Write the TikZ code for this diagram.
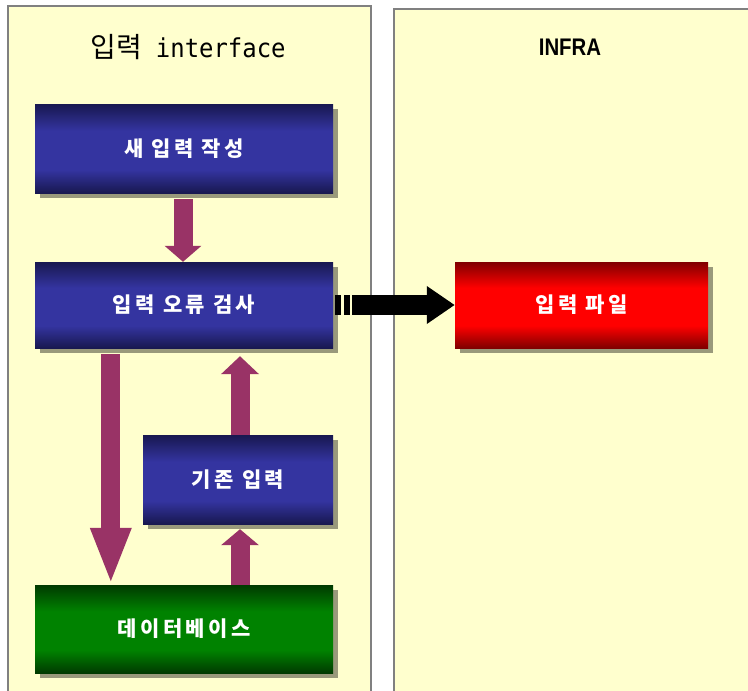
\documentclass[tikz,border=0pt]{standalone}
\usepackage{fontspec}
\usetikzlibrary{arrows.meta,shadows}
\newfontfamily\krfont{Noto Sans CJK KR}
\newfontfamily\krspaced[LetterSpace=16]{Noto Sans CJK KR}
\newfontfamily\monofont[FakeStretch=0.92]{DejaVu Sans Mono}
\newfontfamily\latinfont[FakeStretch=0.85]{Liberation Sans}
\definecolor{cream}{RGB}{255,255,206}
\definecolor{panelgray}{RGB}{128,128,128}
\definecolor{navydark}{RGB}{24,24,80}
\definecolor{navymid}{RGB}{52,52,160}
\definecolor{greendark}{RGB}{0,58,0}
\definecolor{greenmid}{RGB}{0,130,0}
\definecolor{reddark}{RGB}{128,0,0}
\definecolor{redmid}{RGB}{255,0,0}
\definecolor{maroon}{RGB}{153,51,102}
\pgfdeclareverticalshading{navyshade}{100bp}{color(0bp)=(navydark); color(25bp)=(navydark); color(38bp)=(navymid); color(60bp)=(navymid); color(75bp)=(navydark); color(100bp)=(navydark)}
\pgfdeclareverticalshading{greenshade}{100bp}{color(0bp)=(greendark); color(25bp)=(greendark); color(38bp)=(greenmid); color(60bp)=(greenmid); color(75bp)=(greendark); color(100bp)=(greendark)}
\pgfdeclareverticalshading{redshade}{100bp}{color(0bp)=(reddark); color(25bp)=(reddark); color(38bp)=(redmid); color(60bp)=(redmid); color(75bp)=(reddark); color(100bp)=(reddark)}
\tikzset{
  panel/.style={fill=cream, draw=panelgray, line width=1.5pt},
  stepbox/.style={rectangle, inner sep=0pt, text=white, font=\krspaced\bfseries\fontsize{21}{24}\selectfont,
    drop shadow={shadow xshift=5pt, shadow yshift=-5pt, fill=black, opacity=0.4}},
  navybox/.style={stepbox, shading=navyshade},
  greenbox/.style={stepbox, shading=greenshade},
  redbox/.style={stepbox, shading=redshade},
  flow/.style={draw=maroon, line width=19pt},
  title/.style={text=black, inner sep=0pt}
}
\begin{document}
\begin{tikzpicture}[x=1pt, y=-1pt]
\useasboundingbox (0,0) rectangle (748,691);
\fill[white] (0,0) rectangle (748,691);
\begin{scope}
\clip (0,0) rectangle (748,691);
\draw[panel] (8,6) rectangle (371,700);
\draw[panel] (394,9) rectangle (760,700);
\end{scope}
\node[title] (t1) at (188,47) {\krfont\fontsize{28}{30}\selectfont 입력\hspace{14pt}\monofont\fontsize{26}{30}\selectfont interface};
\node[title] (t2) at (570,47) {\latinfont\bfseries\fontsize{24}{26}\selectfont INFRA};

\node[navybox, minimum width=298pt, minimum height=89pt] (b1) at (184,148.5) {새 입력 작성};
\node[navybox, minimum width=298pt, minimum height=86pt] (b2) at (184,305) {입력 오류 검사};
\node[navybox, minimum width=190pt, minimum height=89pt] (b3) at (238,479.5) {기존 입력};
\node[greenbox, minimum width=298pt, minimum height=88pt] (b4) at (184,629) {데이터베이스};
\node[redbox, minimum width=253pt, minimum height=86pt] (b5) at (581.5,305) {입력 파일};

\draw[flow, shorten <=6pt, -{Triangle[width=36pt,length=16pt]}] ([xshift=-1pt]b1.south) -- ([xshift=-1pt]b2.north);
\draw[flow, shorten <=6pt, -{Triangle[width=37pt,length=57pt]}] ([xshift=76pt]b2.south west) -- ([xshift=76pt]b4.north west);
\draw[flow, shorten >=8pt, -{Triangle[width=37pt,length=18pt]}] ([xshift=2pt]b3.north) -- ([xshift=56pt]b2.south);
\draw[flow, shorten >=5pt, -{Triangle[width=37pt,length=16pt]}] ([xshift=56pt]b4.north) -- ([xshift=2pt]b3.south);
\draw[line width=20pt, shorten <=2pt, dash pattern=on 6pt off 3pt on 6pt off 2pt on 300pt, -{Triangle[width=36pt,length=28pt]}] (b2.east) -- (b5.west);
\end{tikzpicture}
\end{document}
